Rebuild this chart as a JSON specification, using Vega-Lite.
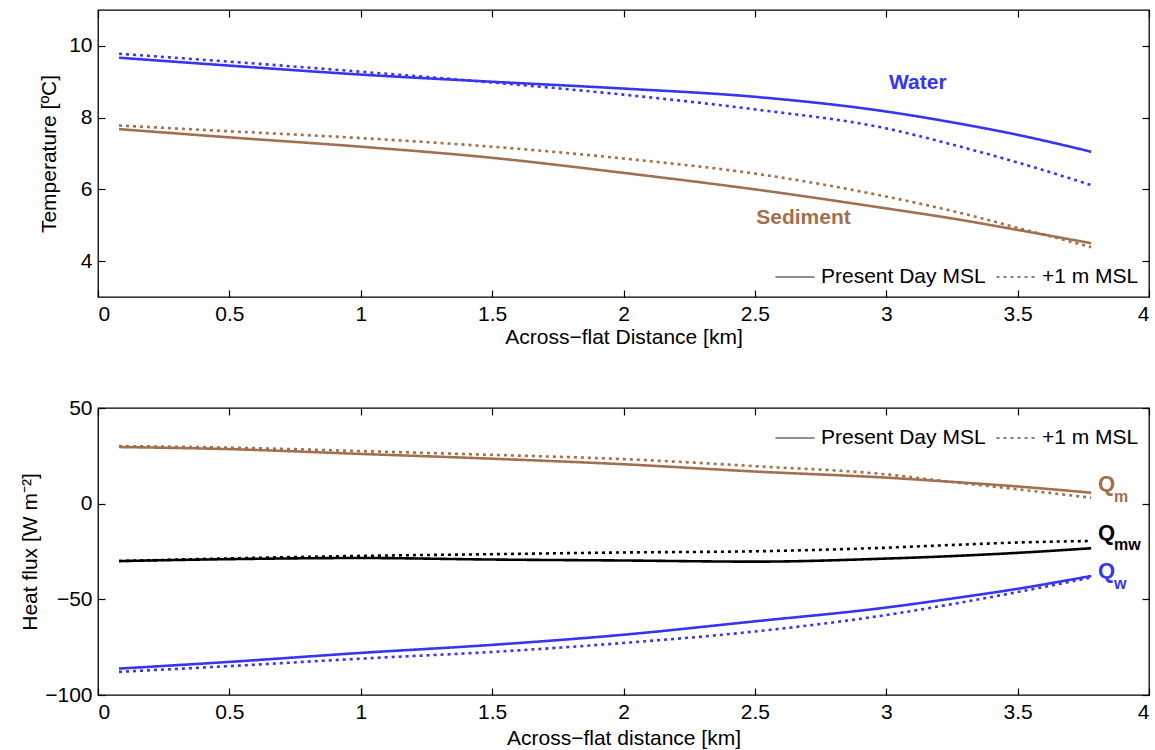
{
  "$schema": "https://vega.github.io/schema/vega-lite/v6.json",
  "background": "white",
  "padding": {"left": 19, "top": 8, "right": 5, "bottom": 5},
  "config": {
    "font": "Liberation Sans",
    "view": {"stroke": "black", "strokeWidth": 1.3},
    "axis": {"domain": false, "grid": false, "ticks": true, "zindex": 2, "tickColor": "black", "tickSize": 7, "offset": -7, "tickWidth": 1.2, "tickOpacity": 1, "labelColor": "black", "titleColor": "black", "labelFontSize": 21, "titleFontSize": 21, "titleFontWeight": "normal", "labelPadding": 6, "titlePadding": 2},
    "axisX": {"ticks": true, "tickSize": 7, "tickColor": "black", "tickWidth": 1.2, "tickOpacity": 1},
    "axisY": {"ticks": true, "tickSize": 7, "tickColor": "black", "tickWidth": 1.2, "tickOpacity": 1},
    "legend": {"direction": "horizontal", "labelFontSize": 21, "labelLimit": 0, "labelColor": "black", "symbolType": "stroke", "symbolSize": 1520, "symbolStrokeWidth": 1, "symbolStrokeColor": "black", "columnPadding": 8, "labelOffset": 6, "padding": 0, "offset": 10, "title": null}
  },
  "datasets": {
    "temp": [
      {"variable": "Water", "scenario": "Present Day MSL", "km": 0.08, "value": 9.67},
      {"variable": "Water", "scenario": "Present Day MSL", "km": 0.5, "value": 9.45},
      {"variable": "Water", "scenario": "Present Day MSL", "km": 1.0, "value": 9.2},
      {"variable": "Water", "scenario": "Present Day MSL", "km": 1.5, "value": 9.0},
      {"variable": "Water", "scenario": "Present Day MSL", "km": 2.0, "value": 8.81},
      {"variable": "Water", "scenario": "Present Day MSL", "km": 2.5, "value": 8.58},
      {"variable": "Water", "scenario": "Present Day MSL", "km": 3.0, "value": 8.17},
      {"variable": "Water", "scenario": "Present Day MSL", "km": 3.25, "value": 7.87},
      {"variable": "Water", "scenario": "Present Day MSL", "km": 3.5, "value": 7.52},
      {"variable": "Water", "scenario": "Present Day MSL", "km": 3.78, "value": 7.05},
      {"variable": "Water", "scenario": "+1 m MSL", "km": 0.08, "value": 9.78},
      {"variable": "Water", "scenario": "+1 m MSL", "km": 0.5, "value": 9.56},
      {"variable": "Water", "scenario": "+1 m MSL", "km": 1.0, "value": 9.28},
      {"variable": "Water", "scenario": "+1 m MSL", "km": 1.5, "value": 8.98},
      {"variable": "Water", "scenario": "+1 m MSL", "km": 2.0, "value": 8.64},
      {"variable": "Water", "scenario": "+1 m MSL", "km": 2.5, "value": 8.23},
      {"variable": "Water", "scenario": "+1 m MSL", "km": 3.0, "value": 7.7},
      {"variable": "Water", "scenario": "+1 m MSL", "km": 3.25, "value": 7.25},
      {"variable": "Water", "scenario": "+1 m MSL", "km": 3.5, "value": 6.75},
      {"variable": "Water", "scenario": "+1 m MSL", "km": 3.78, "value": 6.12},
      {"variable": "Sediment", "scenario": "Present Day MSL", "km": 0.08, "value": 7.68},
      {"variable": "Sediment", "scenario": "Present Day MSL", "km": 0.5, "value": 7.45},
      {"variable": "Sediment", "scenario": "Present Day MSL", "km": 1.0, "value": 7.19},
      {"variable": "Sediment", "scenario": "Present Day MSL", "km": 1.5, "value": 6.88},
      {"variable": "Sediment", "scenario": "Present Day MSL", "km": 2.0, "value": 6.46},
      {"variable": "Sediment", "scenario": "Present Day MSL", "km": 2.5, "value": 6.0},
      {"variable": "Sediment", "scenario": "Present Day MSL", "km": 3.0, "value": 5.47},
      {"variable": "Sediment", "scenario": "Present Day MSL", "km": 3.25, "value": 5.19},
      {"variable": "Sediment", "scenario": "Present Day MSL", "km": 3.5, "value": 4.87},
      {"variable": "Sediment", "scenario": "Present Day MSL", "km": 3.78, "value": 4.5},
      {"variable": "Sediment", "scenario": "+1 m MSL", "km": 0.08, "value": 7.78},
      {"variable": "Sediment", "scenario": "+1 m MSL", "km": 0.5, "value": 7.62},
      {"variable": "Sediment", "scenario": "+1 m MSL", "km": 1.0, "value": 7.43},
      {"variable": "Sediment", "scenario": "+1 m MSL", "km": 1.5, "value": 7.19},
      {"variable": "Sediment", "scenario": "+1 m MSL", "km": 2.0, "value": 6.86},
      {"variable": "Sediment", "scenario": "+1 m MSL", "km": 2.5, "value": 6.44},
      {"variable": "Sediment", "scenario": "+1 m MSL", "km": 3.0, "value": 5.8},
      {"variable": "Sediment", "scenario": "+1 m MSL", "km": 3.25, "value": 5.4},
      {"variable": "Sediment", "scenario": "+1 m MSL", "km": 3.5, "value": 4.93},
      {"variable": "Sediment", "scenario": "+1 m MSL", "km": 3.78, "value": 4.39}
    ],
    "flux": [
      {"variable": "Qm", "scenario": "Present Day MSL", "km": 0.08, "value": 29.6},
      {"variable": "Qm", "scenario": "Present Day MSL", "km": 0.5, "value": 28.5},
      {"variable": "Qm", "scenario": "Present Day MSL", "km": 1.0, "value": 26.0},
      {"variable": "Qm", "scenario": "Present Day MSL", "km": 1.5, "value": 23.5},
      {"variable": "Qm", "scenario": "Present Day MSL", "km": 2.0, "value": 20.6},
      {"variable": "Qm", "scenario": "Present Day MSL", "km": 2.5, "value": 16.8},
      {"variable": "Qm", "scenario": "Present Day MSL", "km": 3.0, "value": 13.6},
      {"variable": "Qm", "scenario": "Present Day MSL", "km": 3.25, "value": 11.4},
      {"variable": "Qm", "scenario": "Present Day MSL", "km": 3.5, "value": 9.0},
      {"variable": "Qm", "scenario": "Present Day MSL", "km": 3.78, "value": 5.7},
      {"variable": "Qm", "scenario": "+1 m MSL", "km": 0.08, "value": 30.1},
      {"variable": "Qm", "scenario": "+1 m MSL", "km": 0.5, "value": 29.3},
      {"variable": "Qm", "scenario": "+1 m MSL", "km": 1.0, "value": 27.5},
      {"variable": "Qm", "scenario": "+1 m MSL", "km": 1.5, "value": 25.5},
      {"variable": "Qm", "scenario": "+1 m MSL", "km": 2.0, "value": 23.3},
      {"variable": "Qm", "scenario": "+1 m MSL", "km": 2.5, "value": 19.6},
      {"variable": "Qm", "scenario": "+1 m MSL", "km": 3.0, "value": 15.3},
      {"variable": "Qm", "scenario": "+1 m MSL", "km": 3.25, "value": 11.3},
      {"variable": "Qm", "scenario": "+1 m MSL", "km": 3.5, "value": 7.5},
      {"variable": "Qm", "scenario": "+1 m MSL", "km": 3.78, "value": 3.1},
      {"variable": "Qmw", "scenario": "Present Day MSL", "km": 0.08, "value": -30.0},
      {"variable": "Qmw", "scenario": "Present Day MSL", "km": 0.5, "value": -29.0},
      {"variable": "Qmw", "scenario": "Present Day MSL", "km": 1.0, "value": -28.4},
      {"variable": "Qmw", "scenario": "Present Day MSL", "km": 1.5, "value": -29.2},
      {"variable": "Qmw", "scenario": "Present Day MSL", "km": 2.0, "value": -29.7},
      {"variable": "Qmw", "scenario": "Present Day MSL", "km": 2.5, "value": -30.3},
      {"variable": "Qmw", "scenario": "Present Day MSL", "km": 3.0, "value": -28.7},
      {"variable": "Qmw", "scenario": "Present Day MSL", "km": 3.25, "value": -27.4},
      {"variable": "Qmw", "scenario": "Present Day MSL", "km": 3.5, "value": -25.7},
      {"variable": "Qmw", "scenario": "Present Day MSL", "km": 3.78, "value": -23.3},
      {"variable": "Qmw", "scenario": "+1 m MSL", "km": 0.08, "value": -30.0},
      {"variable": "Qmw", "scenario": "+1 m MSL", "km": 0.5, "value": -28.6},
      {"variable": "Qmw", "scenario": "+1 m MSL", "km": 1.0, "value": -27.3},
      {"variable": "Qmw", "scenario": "+1 m MSL", "km": 1.5, "value": -26.4},
      {"variable": "Qmw", "scenario": "+1 m MSL", "km": 2.0, "value": -25.5},
      {"variable": "Qmw", "scenario": "+1 m MSL", "km": 2.5, "value": -24.9},
      {"variable": "Qmw", "scenario": "+1 m MSL", "km": 3.0, "value": -23.0},
      {"variable": "Qmw", "scenario": "+1 m MSL", "km": 3.25, "value": -21.6},
      {"variable": "Qmw", "scenario": "+1 m MSL", "km": 3.5, "value": -20.3},
      {"variable": "Qmw", "scenario": "+1 m MSL", "km": 3.78, "value": -19.5},
      {"variable": "Qw", "scenario": "Present Day MSL", "km": 0.08, "value": -86.2},
      {"variable": "Qw", "scenario": "Present Day MSL", "km": 0.5, "value": -82.7},
      {"variable": "Qw", "scenario": "Present Day MSL", "km": 1.0, "value": -78.0},
      {"variable": "Qw", "scenario": "Present Day MSL", "km": 1.5, "value": -73.8},
      {"variable": "Qw", "scenario": "Present Day MSL", "km": 2.0, "value": -68.5},
      {"variable": "Qw", "scenario": "Present Day MSL", "km": 2.5, "value": -61.5},
      {"variable": "Qw", "scenario": "Present Day MSL", "km": 3.0, "value": -54.3},
      {"variable": "Qw", "scenario": "Present Day MSL", "km": 3.25, "value": -49.6},
      {"variable": "Qw", "scenario": "Present Day MSL", "km": 3.5, "value": -44.5},
      {"variable": "Qw", "scenario": "Present Day MSL", "km": 3.78, "value": -37.8},
      {"variable": "Qw", "scenario": "+1 m MSL", "km": 0.08, "value": -87.9},
      {"variable": "Qw", "scenario": "+1 m MSL", "km": 0.5, "value": -84.9},
      {"variable": "Qw", "scenario": "+1 m MSL", "km": 1.0, "value": -81.0},
      {"variable": "Qw", "scenario": "+1 m MSL", "km": 1.5, "value": -77.5},
      {"variable": "Qw", "scenario": "+1 m MSL", "km": 2.0, "value": -72.8},
      {"variable": "Qw", "scenario": "+1 m MSL", "km": 2.5, "value": -66.8},
      {"variable": "Qw", "scenario": "+1 m MSL", "km": 3.0, "value": -58.2},
      {"variable": "Qw", "scenario": "+1 m MSL", "km": 3.25, "value": -52.5},
      {"variable": "Qw", "scenario": "+1 m MSL", "km": 3.5, "value": -46.2},
      {"variable": "Qw", "scenario": "+1 m MSL", "km": 3.78, "value": -38.6}
    ],
    "tempLabels": [
      {"variable": "Water", "text": "Water", "km": 3.12, "value": 8.97},
      {"variable": "Sediment", "text": "Sediment", "km": 2.685, "value": 5.2}
    ],
    "fluxLabels": [
      {"variable": "Qm", "text": "Q", "km": 3.806, "value": 10.1},
      {"variable": "Qmw", "text": "Q", "km": 3.806, "value": -15.5},
      {"variable": "Qw", "text": "Q", "km": 3.806, "value": -35.4}
    ],
    "fluxSubs": [
      {"variable": "Qm", "text": "m", "km": 3.867, "value": 3.3},
      {"variable": "Qmw", "text": "mw", "km": 3.867, "value": -21.8},
      {"variable": "Qw", "text": "w", "km": 3.867, "value": -42.0}
    ]
  },
  "spacing": 48,
  "resolve": {"scale": {"color": "independent", "strokeDash": "independent"}, "legend": {"strokeDash": "independent", "color": "independent"}},
  "vconcat": [
    {
      "width": 1051,
      "height": 287,
      "resolve": {"scale": {"x": "independent", "y": "independent"}},
      "layer": [
        {
          "data": {"name": "temp"},
          "mark": {"type": "line", "strokeWidth": 2.6, "interpolate": "monotone"},
          "encoding": {
            "x": {"field": "km", "type": "quantitative", "scale": {"domain": [0, 4], "nice": false}, "axis": {"orient": "bottom", "ticks": true, "tickSize": 7, "tickColor": "black", "tickWidth": 1.2, "tickOpacity": 1, "tickDash": [], "offset": -7, "values": [0, 0.5, 1, 1.5, 2, 2.5, 3, 3.5, 4], "format": "~g", "title": "Across−flat Distance [km]"}},
            "y": {"field": "value", "type": "quantitative", "scale": {"domain": [3, 11], "nice": false, "zero": false}, "axis": {"orient": "left", "ticks": true, "tickSize": 7, "tickColor": "black", "tickWidth": 1.2, "tickOpacity": 1, "tickDash": [], "offset": -7, "values": [4, 6, 8, 10], "title": "Temperature [ºC]", "titlePadding": 9}},
            "color": {"field": "variable", "type": "nominal", "scale": {"domain": ["Water", "Sediment"], "range": ["#3535f2", "#a0704f"]}, "legend": null},
            "strokeDash": {"field": "scenario", "type": "nominal", "scale": {"domain": ["Present Day MSL", "+1 m MSL"], "range": [[1, 0], [3, 4]]}, "legend": {"orient": "bottom-right"}},
            "detail": {"field": "scenario"}
          }
        },
        {
          "data": {"name": "tempLabels"},
          "mark": {"type": "text", "fontSize": 21, "fontWeight": "bold", "align": "center", "baseline": "middle"},
          "encoding": {
            "x": {"field": "km", "type": "quantitative", "scale": {"domain": [0, 4], "nice": false}, "axis": {"orient": "top", "ticks": true, "tickSize": 7, "tickColor": "black", "tickWidth": 1.2, "tickOpacity": 1, "tickDash": [], "offset": -7, "values": [0, 0.5, 1, 1.5, 2, 2.5, 3, 3.5, 4], "labels": false, "title": null}},
            "y": {"field": "value", "type": "quantitative", "scale": {"domain": [3, 11], "nice": false, "zero": false}, "axis": {"orient": "right", "ticks": true, "tickSize": 7, "tickColor": "black", "tickWidth": 1.2, "tickOpacity": 1, "tickDash": [], "offset": -7, "values": [4, 6, 8, 10], "labels": false, "title": null}},
            "text": {"field": "text"},
            "color": {"field": "variable", "type": "nominal", "legend": null}
          }
        },
        {
          "mark": {"type": "text", "fontSize": 20, "align": "left", "baseline": "middle", "color": "black"},
          "encoding": {
            "x": {"datum": 0.07, "type": "quantitative", "scale": {"domain": [0, 4], "nice": false}, "axis": null},
            "y": {"datum": 10.52, "type": "quantitative", "scale": {"domain": [3, 11], "nice": false, "zero": false}, "axis": null},
            "text": {"value": "(a)"}
          }
        }
      ]
    },
    {
      "width": 1051,
      "height": 287,
      "resolve": {"scale": {"x": "independent", "y": "independent"}},
      "layer": [
        {
          "mark": {"type": "rule", "color": "black", "strokeWidth": 1, "strokeDash": [2, 2]},
          "encoding": {
            "y": {"datum": 0, "type": "quantitative", "scale": {"domain": [-100, 50], "nice": false}, "axis": {"orient": "right", "ticks": true, "tickSize": 7, "tickColor": "black", "tickWidth": 1.2, "tickOpacity": 1, "tickDash": [], "offset": -7, "values": [-100, -50, 0, 50], "labels": false, "title": null}}
          }
        },
        {
          "data": {"name": "flux"},
          "mark": {"type": "line", "strokeWidth": 2.6, "interpolate": "monotone"},
          "encoding": {
            "x": {"field": "km", "type": "quantitative", "scale": {"domain": [0, 4], "nice": false}, "axis": {"orient": "bottom", "ticks": true, "tickSize": 7, "tickColor": "black", "tickWidth": 1.2, "tickOpacity": 1, "tickDash": [], "offset": -7, "values": [0, 0.5, 1, 1.5, 2, 2.5, 3, 3.5, 4], "format": "~g", "title": "Across−flat distance [km]", "titlePadding": 5}},
            "y": {"field": "value", "type": "quantitative", "scale": {"domain": [-100, 50], "nice": false}, "axis": {"orient": "left", "ticks": true, "tickSize": 7, "tickColor": "black", "tickWidth": 1.2, "tickOpacity": 1, "tickDash": [], "offset": -7, "values": [-100, -50, 0, 50], "title": "Heat flux [W m⁻²]", "titlePadding": 4}},
            "color": {"field": "variable", "type": "nominal", "scale": {"domain": ["Qm", "Qmw", "Qw"], "range": ["#a0704f", "#000000", "#3535f2"]}, "legend": null},
            "strokeDash": {"field": "scenario", "type": "nominal", "scale": {"domain": ["Present Day MSL", "+1 m MSL"], "range": [[1, 0], [3, 4]]}, "legend": {"orient": "top-right"}},
            "detail": {"field": "scenario"}
          }
        },
        {
          "data": {"name": "fluxLabels"},
          "mark": {"type": "text", "fontSize": 22, "fontWeight": "bold", "align": "left", "baseline": "middle"},
          "encoding": {
            "x": {"field": "km", "type": "quantitative", "scale": {"domain": [0, 4], "nice": false}, "axis": {"orient": "top", "ticks": true, "tickSize": 7, "tickColor": "black", "tickWidth": 1.2, "tickOpacity": 1, "tickDash": [], "offset": -7, "values": [0, 0.5, 1, 1.5, 2, 2.5, 3, 3.5, 4], "labels": false, "title": null}},
            "y": {"field": "value", "type": "quantitative", "scale": {"domain": [-100, 50], "nice": false}, "axis": null},
            "text": {"field": "text"},
            "color": {"field": "variable", "type": "nominal", "legend": null}
          }
        },
        {
          "data": {"name": "fluxSubs"},
          "mark": {"type": "text", "fontSize": 16, "fontWeight": "bold", "align": "left", "baseline": "middle"},
          "encoding": {
            "x": {"field": "km", "type": "quantitative", "scale": {"domain": [0, 4], "nice": false}, "axis": null},
            "y": {"field": "value", "type": "quantitative", "scale": {"domain": [-100, 50], "nice": false}, "axis": null},
            "text": {"field": "text"},
            "color": {"field": "variable", "type": "nominal", "legend": null}
          }
        },
        {
          "mark": {"type": "text", "fontSize": 20, "align": "left", "baseline": "middle", "color": "black"},
          "encoding": {
            "x": {"datum": 0.07, "type": "quantitative", "scale": {"domain": [0, 4], "nice": false}, "axis": null},
            "y": {"datum": 40.1, "type": "quantitative", "scale": {"domain": [-100, 50], "nice": false}, "axis": null},
            "text": {"value": "(b)"}
          }
        }
      ]
    }
  ]
}
